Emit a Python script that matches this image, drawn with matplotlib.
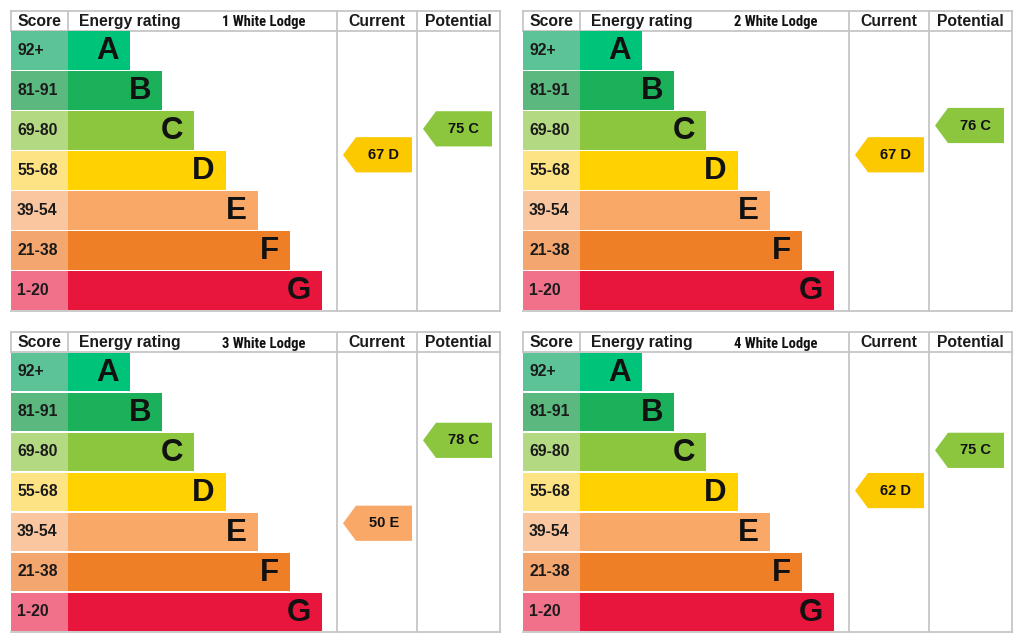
import numpy as np
import matplotlib
matplotlib.use("Agg")
import matplotlib.pyplot as plt
from matplotlib.patches import Polygon
from matplotlib import font_manager

# ---------------- data ----------------
properties = ["1 White Lodge", "2 White Lodge", "3 White Lodge", "4 White Lodge"]
current_scores = [67, 67, 50, 62]
potential_scores = [75, 76, 78, 75]

bands = ["A", "B", "C", "D", "E", "F", "G"]
score_ranges = ["92+", "81-91", "69-80", "55-68", "39-54", "21-38", "1-20"]
band_low = [92, 81, 69, 55, 39, 21, 1]
band_high = [100, 91, 80, 68, 54, 38, 20]

bar_colors = ["#00c37a", "#1bb15b", "#8cc63f", "#ffd200", "#f9a868", "#ef7f27", "#e8163c"]
cell_colors = ["#5cc397", "#5bb87f", "#b3da82", "#fde383", "#f9c6a0", "#f3a66e", "#f07189"]
arrow_colors = {"C": "#8cc63f", "D": "#fcc800", "E": "#f9a868"}

header_labels = ["Score", "Energy rating", "Current", "Potential"]

# ---------------- fonts ----------------
ttf = font_manager.fontManager.ttflist
names = {f.name for f in ttf}
font_main = ["Liberation Sans", "DejaVu Sans"]
title_kw = dict(family=["Roboto", "DejaVu Sans"], fontweight="black", fontsize=9.5)
for cand in ["Liberation Sans Narrow", "Arial Narrow", "Roboto Condensed", "Open Sans Condensed"]:
    if cand in names:
        title_kw = dict(family=[cand, "DejaVu Sans"], fontweight="bold", fontsize=10.5)
        break
else:
    if any(f.name == "DejaVu Sans" and "condensed" in str(f.stretch) and f.weight in ("bold", 700)
           for f in ttf):
        title_kw = dict(family=["DejaVu Sans"], fontweight="bold", fontstretch="condensed",
                        fontsize=9.5)

# ---------------- layout ----------------
W, H = 1024, 643
fig = plt.figure(figsize=(W / 100, H / 100), dpi=100)
fig.patch.set_facecolor("white")

panel_w, panel_h = 489, 300
origins = [(11, 10.5), (523, 10.5), (11, 332), (523, 332)]

score_w = 57
bar_base, bar_step = 62, 32
col_cur, col_pot = 326, 406
line_col = "#c6c6c6"
lw = 1.3

def band_of(score):
    for b, lo, hi in zip(bands, band_low, band_high):
        if lo <= score <= hi:
            return b
    return "G"

# score -> vertical position (row units, bottom=0)
edges = [0.5] + [h + 0.5 for h in band_high[::-1]]
edge_pos = list(range(len(edges)))

def draw_arrow(ax, score, x_tip, x_body, x_right):
    yc = np.interp(score, edges, edge_pos)
    hh = 0.44
    b = band_of(score)
    poly = Polygon([(x_tip, yc), (x_body, yc + hh), (x_right, yc + hh),
                    (x_right, yc - hh), (x_body, yc - hh)], closed=True,
                   facecolor=arrow_colors.get(b, bar_colors[bands.index(b)]),
                   edgecolor="none", zorder=3)
    ax.add_patch(poly)
    ax.text((x_body + x_right) / 2, yc, f"{score} {b}", ha="center", va="center",
            fontsize=10.5, fontweight="bold", family=font_main, color="#111111", zorder=4)

for p, (ox, oy) in enumerate(origins):
    ax = fig.add_axes([ox / W, 1 - (oy + panel_h) / H, panel_w / W, panel_h / H])
    ax.set_xlim(0, panel_w)
    ax.set_ylim(0, 7.5)
    ax.axis("off")

    n = len(bands)
    ys = [n - 1 - i + 0.5 for i in range(n)]
    widths = [bar_base + bar_step * i for i in range(n)]
    ax.barh(ys, [score_w] * n, left=0, height=0.97, color=cell_colors, zorder=2)
    ax.barh(ys, widths, left=score_w, height=0.97, color=bar_colors, zorder=2)

    for i in range(n):
        ax.text(6, ys[i], score_ranges[i], ha="left", va="center", fontsize=11.3,
                fontweight="bold", family=font_main, color="#1a1a1a", zorder=4)
        ax.text(score_w + widths[i] - 11, ys[i] - 0.02, bands[i], ha="right", va="center",
                fontsize=22.5, fontweight="bold", family=font_main, color="#111111", zorder=4)

    # grid lines
    ax.plot([0, panel_w], [7.5, 7.5], color=line_col, lw=lw, zorder=1, clip_on=False)
    ax.plot([0, panel_w], [7.0, 7.0], color=line_col, lw=lw, zorder=1, clip_on=False)
    ax.plot([0, panel_w], [0, 0], color=line_col, lw=lw, zorder=1, clip_on=False)
    ax.plot([0, 0], [7.0, 7.5], color=line_col, lw=lw, zorder=1, clip_on=False)
    ax.plot([score_w, score_w], [7.0, 7.5], color=line_col, lw=lw, zorder=1, clip_on=False)
    for xv in (col_cur, col_pot, panel_w):
        ax.plot([xv, xv], [0, 7.5], color=line_col, lw=lw, zorder=1, clip_on=False)

    # header
    hy = 7.23
    hkw = dict(va="center", fontsize=11.3, fontweight="bold", family=font_main, color="#1a1a1a")
    ax.text(score_w / 2, hy, header_labels[0], ha="center", **hkw)
    ax.text(score_w + 11, hy, header_labels[1], ha="left", **hkw)
    ax.text(253, hy - 0.02, properties[p], ha="center", va="center", color="#111111", **title_kw)
    ax.text((col_cur + col_pot) / 2, hy, header_labels[2], ha="center", **hkw)
    ax.text((col_pot + panel_w) / 2, hy, header_labels[3], ha="center", **hkw)

    draw_arrow(ax, current_scores[p], col_cur + 6, col_cur + 19, col_cur + 75)
    draw_arrow(ax, potential_scores[p], col_pot + 6, col_pot + 19, col_pot + 75)

fig.savefig("out.png", dpi=100, facecolor="white")
